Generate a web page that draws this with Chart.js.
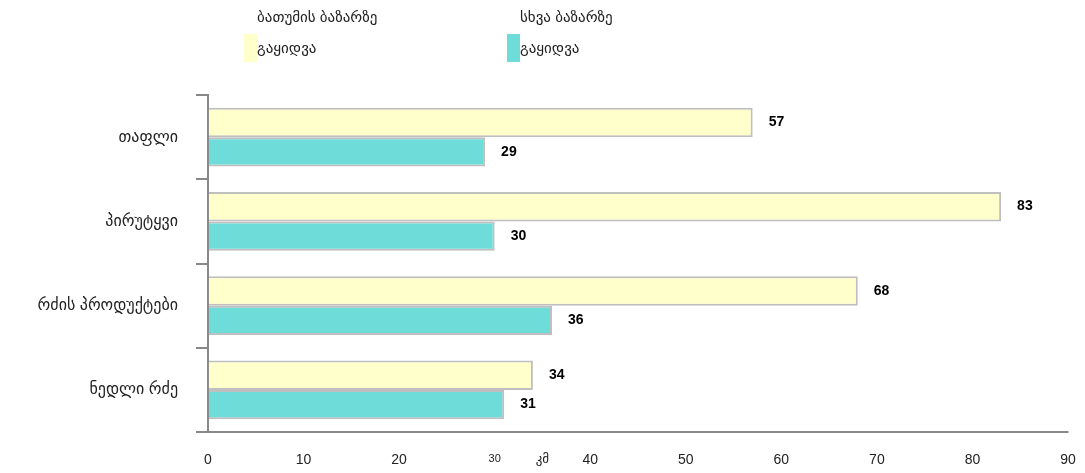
<!DOCTYPE html>
<html>
<head>
<meta charset="utf-8">
<script src="https://cdn.jsdelivr.net/npm/chart.js@4"></script>
<style>
  html, body { margin: 0; padding: 0; background: #fff; }
  #wrap { width: 1085px; height: 473px; position: relative; }
</style>
</head>
<body>
<div id="wrap"><canvas id="chart"></canvas></div>
<script>
/* categories + series */
const categories = ["თაფლი", "პირუტყვი", "რძის პროდუქტები", "ნედლი რძე"];
const batumiLabel = ["ბათუმის ბაზარზე", "გაყიდვა"];
const otherLabel  = ["სხვა ბაზარზე", "გაყიდვა"];
const batumiSales = [57, 83, 68, 34];
const otherSales  = [29, 30, 36, 31];
const xTicks = [0, 10, 20, 30, 40, 50, 60, 70, 80, 90];
const unitLabel = "კმ";

const GEO = "'Liberation Sans', 'DejaVu Sans', sans-serif";
Chart.defaults.font.family = GEO;
Chart.defaults.color = "#222";

// two-line legend drawn at the top
const legendPlugin = {
  id: "topLegend",
  afterDraw(chart) {
    const ctx = chart.ctx;
    const starts = [244, 507];
    ctx.save();
    chart.data.datasets.forEach((ds, i) => {
      const x = starts[i];
      ctx.fillStyle = ds.backgroundColor;
      ctx.fillRect(x, 34, 13, 28);
      ctx.fillStyle = "#222";
      ctx.font = "15px " + GEO;
      ctx.textBaseline = "middle";
      ctx.textAlign = "left";
      ctx.fillText(ds.label[0], x + 13, 18);
      ctx.fillText(ds.label[1], x + 13, 49);
    });
    ctx.restore();
  }
};

// value labels to the right of each bar
const valuePlugin = {
  id: "values",
  afterDatasetsDraw(chart) {
    const ctx = chart.ctx;
    ctx.save();
    ctx.font = "bold 14px 'Liberation Sans', Arial, sans-serif";
    ctx.fillStyle = "#000";
    ctx.textBaseline = "middle";
    ctx.textAlign = "left";
    chart.data.datasets.forEach((ds, i) => {
      chart.getDatasetMeta(i).data.forEach((bar, j) => {
        ctx.fillText(String(ds.data[j]), bar.x + 16, bar.y);
      });
    });
    ctx.restore();
  }
};

new Chart(document.getElementById("chart"), {
  type: "bar",
  data: {
    labels: categories,
    datasets: [
      { label: batumiLabel, data: batumiSales, backgroundColor: "#FFFFCC",
        borderColor: "#BFBFBF", borderWidth: 2, borderSkipped: "start" },
      { label: otherLabel, data: otherSales, backgroundColor: "#6EDDD9",
        borderColor: "#BFBFBF", borderWidth: 2, borderSkipped: "start" }
    ]
  },
  options: {
    indexAxis: "y",
    responsive: true,
    maintainAspectRatio: false,
    animation: false,
    categoryPercentage: 0.70,
    barPercentage: 1.0,
    layout: { padding: { top: 95, right: 0, bottom: 6, left: 0 } },
    plugins: { legend: { display: false }, tooltip: { enabled: false } },
    scales: {
      x: {
        min: 0, max: 90, z: 1,
        afterFit: s => { s.height = 35; s.paddingRight = 17; s.paddingLeft = 0; },
        ticks: {
          stepSize: 5, autoSkip: false, maxRotation: 0, padding: 20, color: "#222",
          callback: v => xTicks.includes(v) ? String(v) : (v === 35 ? unitLabel : ""),
          font: ctx => {
            const v = ctx.tick && ctx.tick.value;
            if (v === 30) return { size: 11 };
            if (v === 35) return { size: 13 };
            return { size: 14 };
          }
        },
        grid: {
          drawTicks: false,
          lineWidth: 1.5,
          color: ctx => [35, 40, 60, 70].includes(ctx.tick && ctx.tick.value) ? "#ffffff" : "rgba(0,0,0,0)"
        },
        border: { color: "#888", width: 2 }
      },
      y: {
        afterFit: s => { s.width = 208; },
        ticks: { padding: 18, font: { size: 16 }, color: "#222" },
        grid: { offset: true, drawOnChartArea: false, drawTicks: true, tickLength: 12, color: "#888", lineWidth: 2 },
        border: { color: "#888", width: 2 }
      }
    }
  },
  plugins: [legendPlugin, valuePlugin]
});
</script>
</body>
</html>
